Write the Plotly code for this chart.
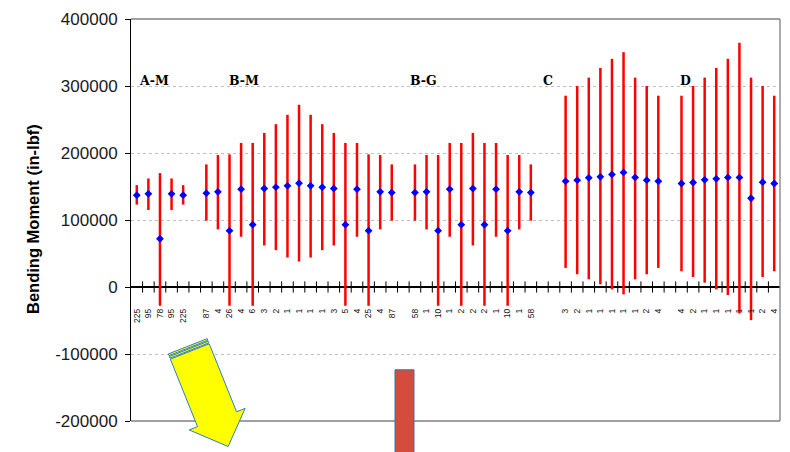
import plotly.graph_objects as go

# Category labels along the x axis (empty strings are spacer slots between groups)
labels = (
    ["225", "95", "78", "95", "225"] + [""] +
    ["87", "4", "26", "4", "6", "3", "2", "1", "1", "1", "1", "3", "5", "4", "25", "4", "87"] + [""] +
    ["58", "1", "10", "1", "2", "2", "2", "1", "10", "1", "58"] + ["", ""] +
    ["3", "2", "1", "1", "1", "1", "1", "2", "4"] + [""] +
    ["4", "2", "1", "1", "1", "1", "1", "2", "4"]
)

# Mean bending moment per slot (None = spacer)
means = (
    [137000, 139000, 72000, 139000, 137000] + [None] +
    [140000, 142000, 84000, 146000, 93000, 147000, 149000, 151000, 155000,
     151000, 149000, 147000, 93000, 146000, 84000, 142000, 141000] + [None] +
    [141000, 142000, 84000, 146000, 93000, 147000, 93000, 146000, 84000, 142000, 141000] + [None, None] +
    [158000, 159500, 163000, 164500, 168000, 171000, 163500, 159500, 158000] + [None] +
    [154500, 156000, 160000, 161500, 163500, 163500, 132500, 156500, 154500]
)

# Upper end of each range
highs = (
    [152000, 162000, 170000, 162000, 152000] + [None] +
    [183000, 197000, 198000, 215000, 215000, 230000, 243000, 257000, 272000,
     257000, 243000, 230000, 215000, 215000, 198000, 197000, 183000] + [None] +
    [183000, 197000, 197000, 215000, 215000, 230000, 215000, 215000, 197000, 197000, 183000] + [None, None] +
    [285500, 300000, 312500, 327000, 340500, 350500, 312500, 300000, 285500] + [None] +
    [285500, 300000, 312500, 327000, 340500, 364500, 312500, 300000, 285500]
)

# Lower end of each range
lows = (
    [123000, 115000, -28000, 115000, 123000] + [None] +
    [99000, 86000, -28000, 75000, -28000, 62000, 55000, 44000, 38000,
     44000, 55000, 62000, -28000, 75000, -28000, 86000, 99000] + [None] +
    [99000, 86000, -28000, 75000, -28000, 62000, -28000, 75000, -28000, 86000, 99000] + [None, None] +
    [28500, 19000, 11500, 4000, -3500, -11000, 11500, 19000, 28500] + [None] +
    [23500, 15000, 6500, -3500, -12000, -39500, -49500, 15000, 23500]
)

# Group captions and the slot index where each caption starts
groups = ["A-M", "B-M", "B-G", "C", "D"]
group_pos = [0.0, 7.8, 23.4, 34.9, 46.7]
group_level = 308000

y_ticks = [400000, 300000, 200000, 100000, 0, -100000, -200000]
y_ticktext = [str(v) for v in y_ticks]
y_range = [-200000, 400000]

# ---------------------------------------------------------------------------
W, H = 790, 452
L, R, T, B = 131, 10, 15, 31
PW, PH = W - L - R, H - T - B

n = len(labels)
xs = list(range(n))
err_plus = [None if m is None else h - m for m, h in zip(means, highs)]
err_minus = [None if m is None else m - lo for m, lo in zip(means, lows)]

fig = go.Figure()

# Tick marks crossing the category axis at the slot boundaries
fig.add_trace(go.Scatter(
    x=[k - 0.5 for k in range(1, n)], y=[0] * (n - 1),
    mode="markers", hoverinfo="skip", showlegend=False,
    marker=dict(symbol="line-ns-open", size=8, color="#000000",
                line=dict(color="#000000", width=1)),
))

# Ranges as red bars with blue diamond means
fig.add_trace(go.Scatter(
    x=xs, y=means, mode="markers", showlegend=False,
    marker=dict(symbol="diamond", size=6, color="#0000FF"),
    error_y=dict(type="data", symmetric=False, array=err_plus, arrayminus=err_minus,
                 color="#FF0000", thickness=2.5, width=0),
))


def px(x, y):
    """Pixel position in the page -> paper coordinates."""
    return (x - L) / PW, (H - B - y) / PH


def path_from_px(points):
    parts = []
    for i, (x, y) in enumerate(points):
        a, b = px(x, y)
        parts.append(("M" if i == 0 else "L") + f"{a:.5f},{b:.5f}")
    return " ".join(parts) + " Z"


shapes = []

# Plot frame (top, right, bottom)
for x0, y0, x1, y1 in [(0, 1, 1, 1), (1, 0, 1, 1), (0, 0, 1, 0)]:
    shapes.append(dict(type="line", xref="paper", yref="paper", x0=x0, y0=y0, x1=x1, y1=y1,
                       line=dict(color="#808080", width=1.3), layer="above"))

# Striped block arrow pointing down-right
ox, oy = 168.3, 353.3          # tail corner
ux, uy = 0.37, 0.929           # along the arrow
vx, vy = 0.929, -0.37          # across the tail


def local(u, v):
    return (ox + u * ux + v * vx, oy + u * uy + v * vy)


arrow_style = dict(type="path", xref="paper", yref="paper", fillcolor="#FFFF00",
                   line=dict(color="#2F7FC1", width=1), layer="above")
for u0, u1 in [(0, 1.8), (2.8, 4.6)]:
    band = [local(u0, 0), local(u1, 0), local(u1, 41.8), local(u0, 41.8)]
    shapes.append(dict(arrow_style, path=path_from_px(band)))
body = [local(5.6, 0), local(79, 0), local(79, -9), local(109, 21),
        local(79.5, 51), local(79.5, 41.8), local(5.6, 41.8)]
shapes.append(dict(arrow_style, path=path_from_px(body)))

# Red block at the bottom
rx0, ry0 = px(395, 369.3)
rx1, ry1 = px(414, 460)
shapes.append(dict(type="rect", xref="paper", yref="paper", x0=rx0, y0=ry0, x1=rx1, y1=ry1,
                   fillcolor="#D64C3C", line=dict(color="#41719C", width=1), layer="above"))

annotations = []
for name, gx in zip(groups, group_pos):
    annotations.append(dict(
        x=gx, y=group_level, xref="x", yref="y", text=f"<b>{name}</b>",
        showarrow=False, xanchor="left", yanchor="middle",
        font=dict(family="DejaVu Serif", size=12.5, color="#000000"),
    ))

tx, ty = px(33, 217)
annotations.append(dict(
    x=tx, y=ty, xref="paper", yref="paper", text="<b>Bending Moment (in-lbf)</b>",
    showarrow=False, textangle=-90, xanchor="center", yanchor="middle",
    font=dict(family="Liberation Sans, Arial", size=16.5, color="#000000"),
))

zero_frac = (0 - y_range[0]) / (y_range[1] - y_range[0])

fig.update_layout(
    width=W, height=H,
    margin=dict(l=L, r=R, t=T, b=B, pad=0),
    paper_bgcolor="#FFFFFF", plot_bgcolor="#FFFFFF",
    showlegend=False,
    shapes=shapes, annotations=annotations,
    xaxis=dict(
        range=[-0.5, n - 0.5], tickmode="array",
        tickvals=[i for i, t in enumerate(labels) if t], ticktext=[t for t in labels if t],
        tickangle=-90, ticks="", ticklabelstandoff=19,
        tickfont=dict(family="Liberation Sans, Arial", size=8.5, color="#111111"),
        anchor="free", position=zero_frac,
        showgrid=False, zeroline=False, showline=False,
    ),
    yaxis=dict(
        range=y_range, tickmode="array", tickvals=y_ticks, ticktext=y_ticktext,
        ticks="outside", ticklen=5, tickwidth=1, tickcolor="#000000",
        ticklabelstandoff=4,
        tickfont=dict(family="Liberation Sans, Arial", size=17, color="#1a1a1a"),
        showline=True, linecolor="#000000", linewidth=1,
        showgrid=True, gridcolor="#C0C0C0", gridwidth=1, griddash="3px,3px",
        zeroline=True, zerolinecolor="#000000", zerolinewidth=1.5,
    ),
)

fig.write_html("out.html")
